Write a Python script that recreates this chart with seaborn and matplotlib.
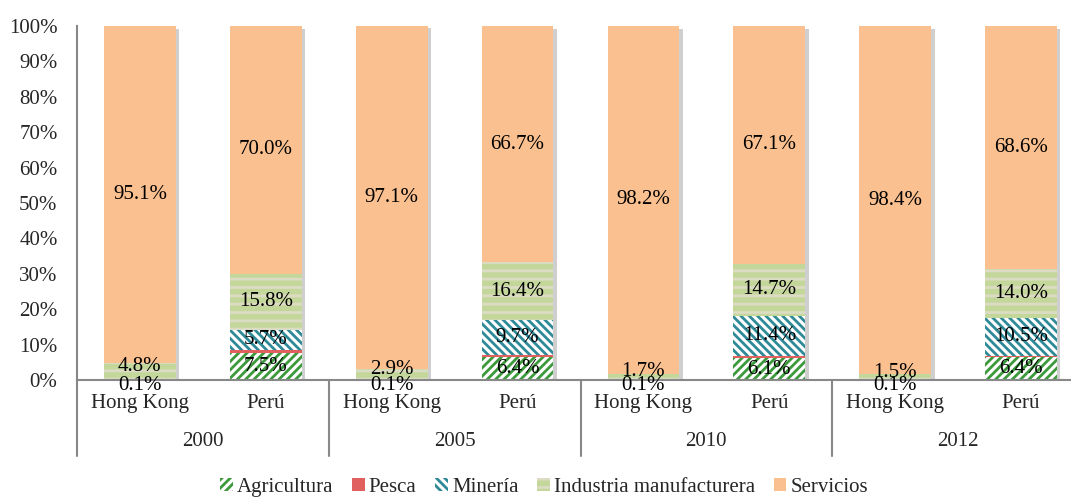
import matplotlib
matplotlib.use("Agg")
import matplotlib.pyplot as plt
import matplotlib.patheffects as pe
from matplotlib.patches import Patch
import matplotlib.transforms as mtransforms
import numpy as np
import pandas as pd
import seaborn as sns

# ---- data (% of GDP by sector) ----
years = ["2000", "2005", "2010", "2012"]
countries = ["Hong Kong", "Perú"]
agricultura = [0.1, 7.5, 0.1, 6.4, 0.1, 6.1, 0.1, 6.4]
pesca = [0.0, 1.0, 0.0, 0.8, 0.0, 0.7, 0.0, 0.5]
mineria = [0.0, 5.7, 0.0, 9.7, 0.0, 11.4, 0.0, 10.5]
industria = [4.8, 15.8, 2.9, 16.4, 1.7, 14.7, 1.5, 14.0]
servicios = [95.1, 70.0, 97.1, 66.7, 98.2, 67.1, 98.4, 68.6]

sectors = ["Agricultura", "Pesca", "Minería", "Industria manufacturera", "Servicios"]
values = [agricultura, pesca, mineria, industria, servicios]
styles = {
    "Agricultura": dict(facecolor="white", edgecolor="#3c9a3c", hatch="////"),
    "Pesca": dict(facecolor="#e06060", edgecolor="#e06060", hatch=None),
    "Minería": dict(facecolor="white", edgecolor="#2f8a98", hatch="\\\\\\\\"),
    "Industria manufacturera": dict(facecolor="#c4d79b", edgecolor="#dcdcc4", hatch="--"),
    "Servicios": dict(facecolor="#fac090", edgecolor="#fac090", hatch=None),
}

cats = [f"{c} {y}" for y in years for c in countries]
df = pd.DataFrame({"cat": cats})
for s, v in zip(sectors, values):
    df[s] = v
cum = df[sectors].cumsum(axis=1)

FS = 15

sns.set_theme(style="white")
plt.rcParams["font.family"] = ["Liberation Serif", "DejaVu Serif"]
plt.rcParams["hatch.linewidth"] = 2.0

fig = plt.figure(figsize=(10.71, 4.98), dpi=100)
ax = fig.add_axes([77 / 1071, 118 / 498, 1007 / 1071, 354 / 498])

# draw cumulative bars from the top layer down so each covers the previous
for i, s in enumerate(reversed(sectors)):
    st = styles[s]
    sns.barplot(x=df["cat"], y=cum[s], order=cats, ax=ax, width=0.57,
                saturation=1, errorbar=None, color=st["facecolor"],
                edgecolor=st["edgecolor"], hatch=st["hatch"], linewidth=0)
    n = len(cats)
    for p in ax.patches[-n:]:
        p.set_facecolor(st["facecolor"])
        p.set_edgecolor(st["edgecolor"])
        if i == 0:
            p.set_path_effects([pe.SimplePatchShadow(offset=(2.5, -2), shadow_rgbFace="#777777", alpha=0.35),
                                pe.Normal()])

# data labels
for j in range(len(cats)):
    bottom = 0.0
    for s, v in zip(sectors, values):
        val = v[j]
        if s != "Pesca" and val > 0:
            yc = bottom + val / 2
            if val < 0.5:
                yc -= 1.6   # tiny segment: label sits on the axis
            elif val < 5:
                yc += 1.4   # small segment: label raised like the original
            ax.text(j, yc, f"{val:.1f}%", ha="center", va="center",
                    fontsize=FS, color="black")
        bottom += val

ax.set_ylim(0, 100)
ax.set_xlim(-0.5, len(cats) - 0.5)
ax.set_yticks(np.arange(0, 101, 10))
ax.set_yticklabels([f"{t}%" for t in range(0, 101, 10)], fontsize=FS)
ax.set_xticks(range(len(cats)))
ax.set_xticklabels(countries * len(years), fontsize=FS)
ax.tick_params(axis="both", length=0)
ax.tick_params(axis="y", pad=14)
ax.tick_params(axis="x", pad=10)
ax.set_xlabel("")
ax.set_ylabel("")

for sp in ["top", "right"]:
    ax.spines[sp].set_visible(False)
for sp in ["left", "bottom"]:
    ax.spines[sp].set_color("#888888")
    ax.spines[sp].set_linewidth(1.5)

# year labels and separators under the axis
trans = mtransforms.blended_transform_factory(ax.transData, ax.transAxes)
for k, y in enumerate(years):
    ax.text(2 * k + 0.5, -0.175, y, transform=trans, ha="center", va="center", fontsize=FS)
for xs in np.arange(-0.5, len(cats), 2):
    ax.plot([xs, xs], [0, -0.215], transform=trans, color="#888888", lw=1.5, clip_on=False)

handles = [Patch(facecolor=styles[s]["facecolor"], edgecolor=styles[s]["edgecolor"],
                 hatch=styles[s]["hatch"], linewidth=0, label=s) for s in sectors]
fig.legend(handles=handles, loc="center", bbox_to_anchor=(0.508, 0.022), ncol=5,
           frameon=False, fontsize=FS, handlelength=0.6, handleheight=0.6,
           handletextpad=0.2, columnspacing=0.9)

fig.savefig("out.png", dpi=100)
